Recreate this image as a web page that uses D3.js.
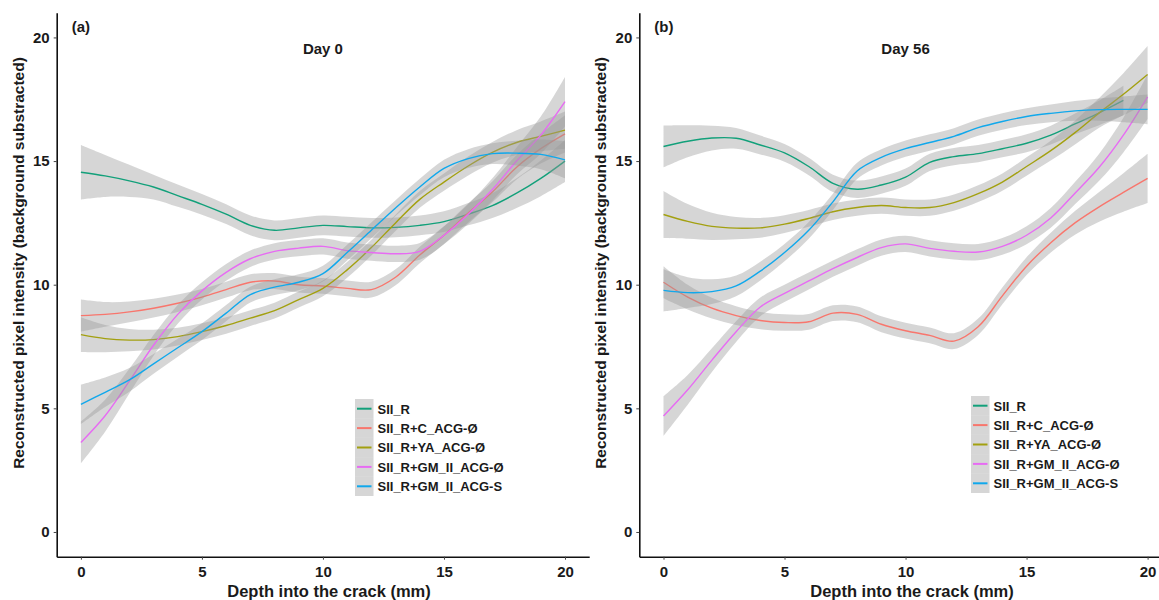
<!DOCTYPE html>
<html>
<head>
<meta charset="utf-8">
<script src="https://cdn.jsdelivr.net/npm/d3@7"></script>
<style>
  html, body { margin: 0; padding: 0; background: #fff; }
  svg text { font-family: "Liberation Sans", Arial, sans-serif; font-weight: bold; fill: #1a1a1a; }
</style>
</head>
<body>
<svg id="chart" width="1159" height="600"></svg>
<script>
// ---------------- data ----------------
const depth = [0,1,2,3,4,5,6,7,8,9,10,11,12,13,14,15,16,17,18,19,20];
const seriesNames = ["SII_R","SII_R+C_ACG-Ø","SII_R+YA_ACG-Ø","SII_R+GM_II_ACG-Ø","SII_R+GM_II_ACG-S"];
const seriesColors = ["#12a07a","#f8766d","#a3a010","#e76bf3","#10a8ec"];
const yTicks = [0,5,10,15,20];
const xTicks = [0,5,10,15,20];

// Panel (a) Day 0 – fitted values
const day0_SII_R      = [14.55,14.4,14.2,13.95,13.6,13.25,12.85,12.4,12.2,12.3,12.4,12.35,12.3,12.32,12.4,12.55,12.85,13.2,13.7,14.3,15.0];
const day0_C_ACG      = [8.75,8.8,8.9,9.05,9.25,9.5,9.8,10.1,10.15,10.0,9.95,9.85,9.8,10.3,11.2,12.0,12.9,13.75,14.75,15.5,16.1];
const day0_YA_ACG     = [7.98,7.82,7.76,7.78,7.9,8.1,8.35,8.65,8.95,9.4,9.85,10.6,11.5,12.5,13.45,14.15,14.8,15.35,15.75,16.0,16.25];
const day0_GM_ACG_O   = [3.62,4.7,6.1,7.55,8.8,9.75,10.5,11.05,11.35,11.48,11.55,11.38,11.3,11.25,11.35,12.0,12.85,13.85,15.0,16.05,17.4];
const day0_GM_ACG_S   = [5.16,5.65,6.15,6.8,7.45,8.1,8.85,9.6,9.9,10.1,10.45,11.3,12.2,13.1,13.95,14.7,15.1,15.3,15.32,15.27,15.05];
// Panel (a) confidence half-widths
const day0_SII_R_ci    = [1.1,0.85,0.65,0.5,0.45,0.42,0.4,0.4,0.4,0.4,0.4,0.4,0.4,0.4,0.4,0.42,0.45,0.5,0.6,0.72,0.85];
const day0_C_ACG_ci    = [0.65,0.5,0.42,0.38,0.35,0.33,0.32,0.32,0.32,0.32,0.32,0.32,0.32,0.32,0.33,0.35,0.38,0.42,0.5,0.6,0.75];
const day0_YA_ACG_ci   = [0.7,0.55,0.45,0.4,0.36,0.34,0.33,0.32,0.32,0.32,0.32,0.32,0.32,0.33,0.34,0.35,0.38,0.42,0.5,0.6,0.75];
const day0_GM_ACG_O_ci = [0.85,0.65,0.5,0.42,0.38,0.35,0.34,0.33,0.33,0.33,0.33,0.33,0.33,0.33,0.34,0.36,0.4,0.45,0.55,0.75,1.0];
const day0_GM_ACG_S_ci = [0.8,0.6,0.48,0.4,0.36,0.34,0.33,0.32,0.32,0.32,0.32,0.32,0.32,0.32,0.33,0.35,0.38,0.42,0.5,0.6,0.75];

// Panel (b) Day 56 – fitted values (SII_R measured to 19 mm)
const day56_SII_R     = [15.59,15.8,15.93,15.92,15.65,15.33,14.78,14.1,13.86,14.03,14.35,14.95,15.18,15.3,15.5,15.72,16.05,16.5,16.95,17.45];
const day56_C_ACG     = [10.1,9.5,9.05,8.75,8.55,8.47,8.5,8.85,8.8,8.4,8.14,7.95,7.72,8.3,9.55,10.75,11.7,12.5,13.15,13.73,14.3];
const day56_YA_ACG    = [12.84,12.56,12.36,12.29,12.3,12.45,12.68,12.95,13.12,13.2,13.12,13.12,13.32,13.68,14.15,14.78,15.42,16.15,16.95,17.7,18.5];
const day56_GM_ACG_O  = [4.69,5.75,6.95,8.1,9.1,9.65,10.15,10.65,11.1,11.5,11.65,11.47,11.35,11.32,11.55,12.0,12.7,13.7,14.75,16.05,17.6];
const day56_GM_ACG_S  = [9.77,9.68,9.72,9.95,10.55,11.3,12.2,13.35,14.6,15.15,15.5,15.75,16.0,16.35,16.6,16.8,16.93,17.03,17.08,17.09,17.09];
// Panel (b) confidence half-widths
const day56_SII_R_ci    = [0.85,0.65,0.5,0.42,0.38,0.36,0.35,0.35,0.35,0.35,0.35,0.35,0.35,0.35,0.35,0.36,0.38,0.42,0.5,0.6];
const day56_C_ACG_ci    = [0.65,0.5,0.42,0.38,0.35,0.33,0.32,0.32,0.32,0.32,0.32,0.32,0.32,0.33,0.34,0.36,0.4,0.48,0.6,0.78,1.0];
const day56_YA_ACG_ci   = [0.95,0.7,0.55,0.45,0.4,0.36,0.34,0.33,0.33,0.33,0.33,0.33,0.33,0.34,0.35,0.37,0.4,0.48,0.6,0.85,1.15];
const day56_GM_ACG_O_ci = [0.8,0.6,0.48,0.42,0.38,0.35,0.34,0.33,0.33,0.33,0.33,0.33,0.33,0.33,0.34,0.36,0.4,0.45,0.55,0.7,0.9];
const day56_GM_ACG_S_ci = [0.85,0.62,0.5,0.42,0.38,0.35,0.34,0.33,0.33,0.33,0.33,0.33,0.33,0.33,0.33,0.34,0.36,0.4,0.45,0.52,0.6];

const panels = [
  { tag: "(a)", title: "Day 0",
    values: [day0_SII_R, day0_C_ACG, day0_YA_ACG, day0_GM_ACG_O, day0_GM_ACG_S],
    ci: [day0_SII_R_ci, day0_C_ACG_ci, day0_YA_ACG_ci, day0_GM_ACG_O_ci, day0_GM_ACG_S_ci],
    left: 56.7, right: 589.2, xTitleX: 329, yTitleX: 19, legendX: 355, legendY: 399 },
  { tag: "(b)", title: "Day 56",
    values: [day56_SII_R, day56_C_ACG, day56_YA_ACG, day56_GM_ACG_O, day56_GM_ACG_S],
    ci: [day56_SII_R_ci, day56_C_ACG_ci, day56_YA_ACG_ci, day56_GM_ACG_O_ci, day56_GM_ACG_S_ci],
    left: 639.3, right: 1171.8, xTitleX: 912, yTitleX: 601, legendX: 971, legendY: 396 }
];

// ---------------- drawing ----------------
const svg = d3.select("#chart");
const plotTop = 12.7, plotBottom = 556.7;
const y = d3.scaleLinear().domain([-1, 21]).range([plotBottom, plotTop]);

panels.forEach(p => {
  const x = d3.scaleLinear().domain([-1, 21]).range([p.left, p.right]);
  const g = svg.append("g");

  // smooths: ribbon then line, per group
  p.values.forEach((vals, i) => {
    const pts = vals.map((v, j) => ({ x: depth[j], y: v, lo: v - p.ci[i][j], hi: v + p.ci[i][j] }));
    const area = d3.area().curve(d3.curveCatmullRom.alpha(0.5))
      .x(d => x(d.x)).y0(d => y(d.lo)).y1(d => y(d.hi));
    const line = d3.line().curve(d3.curveCatmullRom.alpha(0.5))
      .x(d => x(d.x)).y(d => y(d.y));
    g.append("path").attr("d", area(pts)).attr("fill", "#999999").attr("fill-opacity", 0.4).attr("stroke", "none");
    g.append("path").attr("d", line(pts)).attr("fill", "none").attr("stroke", seriesColors[i]).attr("stroke-width", 1.4);
  });

  // axes
  const xAxis = d3.axisBottom(x).tickValues(xTicks).tickSizeInner(3).tickSizeOuter(0).tickPadding(7);
  const yAxis = d3.axisLeft(y).tickValues(yTicks).tickSizeInner(3).tickSizeOuter(0).tickPadding(4);
  const gx = g.append("g").attr("transform", `translate(0,${plotBottom})`).call(xAxis);
  const gy = g.append("g").attr("transform", `translate(${p.left},0)`).call(yAxis);
  [gx, gy].forEach(a => {
    a.select(".domain").attr("stroke", "#111").attr("stroke-width", 1.6);
    a.selectAll(".tick line").attr("stroke", "#444").attr("stroke-width", 1);
    a.selectAll(".tick text").attr("font-size", 15).attr("fill", "#1a1a1a")
      .style("font-family", "'Liberation Sans', Arial, sans-serif").style("font-weight", "bold");
  });

  // titles
  g.append("text").attr("x", p.left + 15).attr("y", 32).attr("font-size", 15).text(p.tag);
  g.append("text").attr("x", (p.left + p.right) / 2).attr("y", 54).attr("text-anchor", "middle")
    .attr("font-size", 15).text(p.title);
  g.append("text").attr("x", p.xTitleX).attr("y", 597).attr("text-anchor", "middle")
    .attr("font-size", 16.5).text("Depth into the crack (mm)");
  g.append("text").attr("transform", `translate(${p.yTitleX + 5},${263}) rotate(-90)`)
    .attr("text-anchor", "middle").attr("font-size", 15.5)
    .text("Reconstructed pixel intensity (background substracted)");

  // legend
  const lg = g.append("g").attr("transform", `translate(${p.legendX},${p.legendY})`);
  const keyH = 19.4, keyW = 18.5;
  seriesNames.forEach((name, i) => {
    const row = lg.append("g").attr("transform", `translate(0,${i * keyH})`);
    row.append("rect").attr("width", keyW).attr("height", keyH).attr("fill", "#999999").attr("fill-opacity", 0.4);
    row.append("line").attr("x1", 2).attr("x2", keyW - 2).attr("y1", keyH / 2).attr("y2", keyH / 2)
      .attr("stroke", seriesColors[i]).attr("stroke-width", 2);
    row.append("text").attr("x", keyW + 4).attr("y", keyH / 2 + 4.8).attr("font-size", 13).text(name);
  });
});
</script>
</body>
</html>
